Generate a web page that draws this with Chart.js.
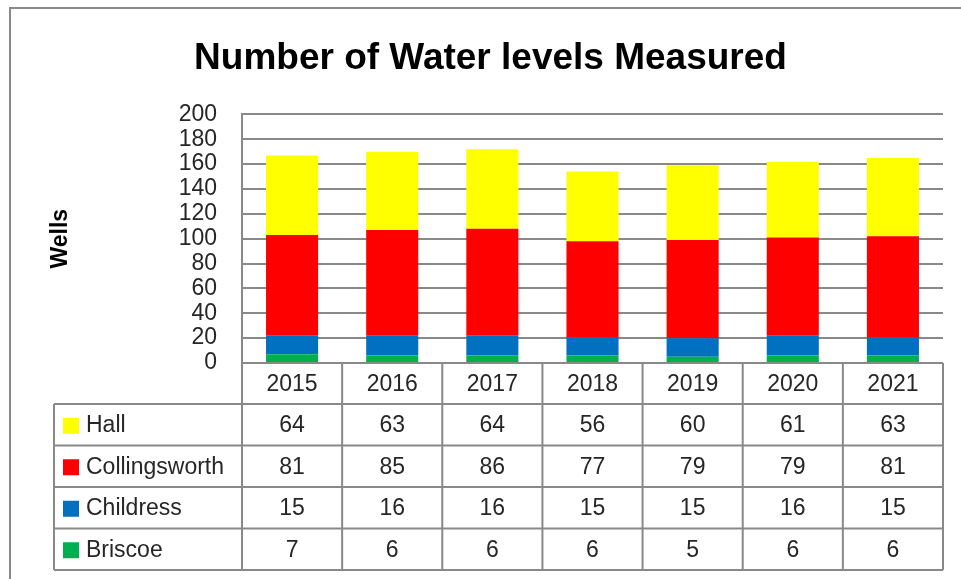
<!DOCTYPE html>
<html>
<head>
<meta charset="utf-8">
<title>Number of Water levels Measured</title>
<script src="https://cdn.jsdelivr.net/npm/chart.js@4.4.1/dist/chart.umd.min.js"></script>
<style>
  html, body { margin: 0; padding: 0; background: #fff; }
  #wrap { width: 961px; height: 579px; position: relative; }
</style>
</head>
<body>
<div id="wrap"><canvas id="myChart" width="961" height="579"></canvas></div>
<script>
// data
var years = ["2015", "2016", "2017", "2018", "2019", "2020", "2021"];
var briscoe = [7, 6, 6, 6, 5, 6, 6];
var childress = [15, 16, 16, 15, 15, 16, 15];
var collingsworth = [81, 85, 86, 77, 79, 79, 81];
var hall = [64, 63, 64, 56, 60, 61, 63];

var FONT = "'Liberation Sans', Arial, sans-serif";
var LINE = "#898989";
var TEXT = "#262626";

/*-------------------------
data table under the chart + outer frame
--------------------------*/
var dataTable = {
  id: "dataTable",
  afterDraw: function (chart) {
    var ctx = chart.ctx;
    var x = chart.scales.x;
    var area = chart.chartArea;
    var n = years.length;
    var colW = (area.right - area.left) / n;
    var headTop = area.bottom;
    var headH = 41;
    var rowH = 41.5;
    var tableLeft = 54;
    // rows top to bottom (reverse of the stack)
    var rows = chart.data.datasets.slice().reverse();
    var bottom = headTop + headH + rowH * rows.length;

    ctx.save();
    ctx.strokeStyle = LINE;
    ctx.lineWidth = 2;

    // outer frame (only top and left are in view)
    ctx.beginPath();
    ctx.moveTo(10, 579); ctx.lineTo(10, 8); ctx.lineTo(961, 8);
    ctx.stroke();

    // vertical lines of year columns
    ctx.beginPath();
    for (var i = 0; i <= n; i++) {
      var vx = area.left + colW * i;
      ctx.moveTo(vx, headTop);
      ctx.lineTo(vx, bottom);
    }
    // horizontal row lines
    for (var r = 0; r <= rows.length; r++) {
      var hy = headTop + headH + rowH * r;
      ctx.moveTo(tableLeft, hy);
      ctx.lineTo(area.right, hy);
    }
    ctx.moveTo(tableLeft, headTop + headH);
    ctx.lineTo(tableLeft, bottom);
    ctx.stroke();

    ctx.fillStyle = TEXT;
    ctx.font = "23px " + FONT;
    ctx.textAlign = "center";
    ctx.textBaseline = "middle";
    years.forEach(function (y, i) {
      ctx.fillText(y, x.getPixelForValue(i), headTop + headH / 2 + 1);
    });

    rows.forEach(function (ds, r) {
      var cy = headTop + headH + rowH * r + rowH / 2 + 1;
      ctx.fillStyle = ds.backgroundColor;
      ctx.fillRect(63, cy - 8, 16, 16);
      ctx.fillStyle = TEXT;
      ctx.textAlign = "left";
      ctx.fillText(ds.label, 86, cy);
      ctx.textAlign = "center";
      ds.data.forEach(function (v, i) {
        ctx.fillText(String(v), x.getPixelForValue(i), cy);
      });
    });
    ctx.restore();
  }
};

var ctx = document.getElementById("myChart").getContext("2d");
var myChart = new Chart(ctx, {
  type: "bar",
  data: {
    labels: years,
    datasets: [
      { label: "Briscoe", data: briscoe, backgroundColor: "#00B050" },
      { label: "Childress", data: childress, backgroundColor: "#0070C0" },
      { label: "Collingsworth", data: collingsworth, backgroundColor: "#FF0000" },
      { label: "Hall", data: hall, backgroundColor: "#FFFF00" }
    ]
  },
  options: {
    responsive: false,
    animation: false,
    events: [],
    layout: {
      padding: { left: 38, right: 18, top: 0, bottom: 216 }
    },
    datasets: {
      bar: { barPercentage: 0.52, categoryPercentage: 1 }
    },
    plugins: {
      legend: { display: false },
      tooltip: { enabled: false },
      title: {
        display: true,
        text: "Number of Water levels Measured",
        color: "#000",
        font: { family: FONT, size: 37, weight: "bold", lineHeight: 1.2 },
        padding: { top: 37, bottom: 33 }
      }
    },
    scales: {
      x: {
        stacked: true,
        display: false
      },
      y: {
        stacked: true,
        min: 0,
        max: 200,
        afterFit: function (scale) { scale.width = 204; },
        title: {
          display: true,
          text: "Wells",
          color: "#000",
          font: { family: FONT, size: 23, weight: "bold", lineHeight: 1.2 },
          padding: { top: 9, bottom: 0 }
        },
        ticks: {
          stepSize: 20,
          autoSkip: false,
          padding: 25,
          color: TEXT,
          font: { family: FONT, size: 23, lineHeight: 1 }
        },
        grid: { color: LINE, lineWidth: 2, drawTicks: false },
        border: { display: true, color: LINE, width: 2 }
      }
    }
  },
  plugins: [dataTable]
});
</script>
</body>
</html>
